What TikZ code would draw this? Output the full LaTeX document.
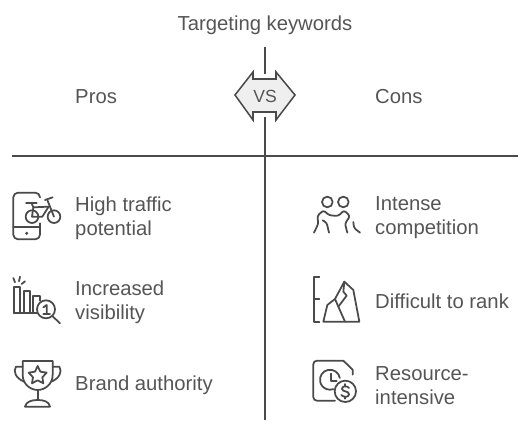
\documentclass[tikz,border=0pt]{standalone}
\usepackage{fontspec}
\setmainfont{Liberation Sans}
\usepackage{xcolor}
\usetikzlibrary{positioning, shapes.geometric}
\definecolor{inkgrey}{HTML}{4A4A4A}
\definecolor{textgrey}{HTML}{555555}
\definecolor{vsfill}{HTML}{EFEFEF}
\tikzset{
  axisline/.style={draw=inkgrey, line width=1.7pt},
  iconline/.style={draw=inkgrey, line width=1.5pt, line cap=round, line join=round},
  itemlabel/.style={font=\fontsize{17.3}{20.5}\selectfont, text=textgrey, anchor=west, align=left, inner sep=0pt},
  headlabel/.style={font=\fontsize{17.3}{20.5}\selectfont, text=textgrey, inner sep=0pt}
}
\begin{document}
\begin{tikzpicture}[x=0.03cm, y=-0.03cm]
  \useasboundingbox (0,0) rectangle (531,433);

  % -- Title and headings --
  \node[headlabel] (title) at (265,25) {Targeting keywords};
  \node[headlabel, anchor=west] (pros) at (75,97) {Pros};
  \node[headlabel, anchor=west] (cons) at (375,97) {Cons};

  % -- Axes --
  \coordinate (axistop) at (265,47);
  \coordinate (axisbot) at (265,420);
  \coordinate (vsup) at (265,74);
  \coordinate (vsdown) at (265,117);
  \coordinate (ruleleft) at (12,156);
  \coordinate (ruleright) at (518,156);
  \draw[axisline] (axistop) -- (vsup);
  \draw[axisline] (vsdown) -- (axisbot);
  \draw[axisline] (ruleleft) -- (ruleright);

  % -- VS badge --
  \filldraw[fill=vsfill, draw=inkgrey, line width=1.3pt, line join=miter]
    (235,95) -- (253,72) -- (253,79) -- (276,79) -- (276,72) -- (295,95)
    -- (276,120) -- (276,112) -- (253,112) -- (253,120) -- cycle;
  \node[font=\fontsize{15}{16}\selectfont, text=textgrey, inner sep=0pt] (vs) at (265,96) {VS};

  % -- Labels, pros --
  \node[itemlabel] (traffic) at (75,218) {High traffic\\potential};
  \node[itemlabel] (visible) at (75,302) {Increased\\visibility};
  \node[itemlabel] (brand) at (75,385) {Brand authority};

  % -- Labels, cons --
  \node[itemlabel] (compete) at (375,218) {Intense\\competition};
  \node[itemlabel] (rank) at (375,301) {Difficult to rank};
  \node[itemlabel] (resource) at (375,386) {Resource-\\intensive};

  % -- Phone and bike --
  \begin{scope}[shift={(10,190)}, scale=0.3333]
    \draw[iconline, rounded corners=4pt] (90,22) -- (90,8) -- (10,8) -- (10,148) -- (90,148) -- (90,100);
    \draw[iconline] (10,112) -- (90,112);
    \fill[inkgrey] (50,130) circle (5);
    \draw[iconline] (66,80) circle (19);
    \draw[iconline] (132,80) circle (19);
    \draw[iconline] (48,38) -- (80,38);
    \draw[iconline] (64,38) -- (70,52) -- (66,80) -- (97,80) -- (116,50) -- (70,52);
    \draw[iconline] (105,30) -- (128,22);
    \draw[iconline] (112,30) -- (132,80);
  \end{scope}

  % -- Bars and magnifier --
  \begin{scope}[shift={(10,274)}, scale=0.3333]
    \draw[iconline] (13,118) -- (13,38) -- (30,38) -- (30,118);
    \draw[iconline] (42,118) -- (42,50) -- (60,50) -- (60,118);
    \draw[iconline] (70,118) -- (70,65) -- (90,65) -- (90,80);
    \draw[iconline] (13,118) -- (80,118);
    \draw[iconline] (10,12) -- (15,25);
    \draw[iconline] (30,8) -- (27,22);
    \draw[iconline] (45,22) -- (35,30);
    \draw[iconline] (108,106) circle (27);
    \draw[iconline] (127,126) -- (150,148);
    \draw[iconline] (100,100) -- (110,93) -- (110,120);
    \draw[iconline] (100,120) -- (120,120);
  \end{scope}

  % -- Trophy --
  \begin{scope}[shift={(0,180)}, scale=0.3333]
    \draw[iconline] (68,543) -- (158,543) -- (158,585) .. controls (158,612) and (135,630) .. (113,630)
      .. controls (91,630) and (68,612) .. (68,585) -- cycle;
    \draw[iconline] (68,560) -- (48,560) .. controls (38,575) and (48,595) .. (72,605);
    \draw[iconline] (158,560) -- (178,560) .. controls (188,575) and (178,595) .. (154,605);
    \draw[iconline] (113,630) -- (113,660);
    \draw[iconline] (75,680) .. controls (78,665) and (95,660) .. (113,660)
      .. controls (131,660) and (148,665) .. (150,680) -- cycle;
    \draw[iconline] (113,558) -- (121,575) -- (140,578) -- (127,592) -- (130,610)
      -- (113,601) -- (96,610) -- (99,592) -- (86,578) -- (105,575) -- cycle;
  \end{scope}

  % -- Two people --
  \begin{scope}[shift={(310,192)}, scale=0.3333]
    \draw[iconline] (52,30) circle (16);
    \draw[iconline] (100,30) circle (16);
    \draw[iconline, rounded corners=2pt] (12,122) -- (25,95) -- (22,72) -- (40,55) -- (58,70) -- (85,72) -- (102,55) -- (120,72) -- (105,95) -- (112,122);
    \draw[iconline, rounded corners=2pt] (38,85) -- (50,92) -- (57,122);
    \draw[iconline, rounded corners=2pt] (130,90) -- (132,108) -- (150,122);
  \end{scope}

  % -- Bracket and mountain --
  \begin{scope}[shift={(310,275)}, scale=0.3333]
    \draw[iconline] (28,7) -- (12,7) -- (12,140) -- (28,140);
    \draw[iconline] (12,72) -- (28,72);
    \draw[iconline] (40,140) -- (148,140) -- (130,45) -- (103,20) -- (75,72) -- (52,90) -- cycle;
    \draw[iconline] (103,20) -- (100,50) -- (110,62) -- (85,95) -- (105,140);
    \draw[iconline] (75,72) -- (85,95);
  \end{scope}

  % -- Document, clock and dollar --
  \begin{scope}[shift={(310,358)}, scale=0.3333]
    \draw[iconline, rounded corners=3pt] (75,128) -- (10,128) -- (10,8) -- (100,8);
    \draw[iconline] (100,8) -- (128,35) -- (128,50);
    \draw[iconline] (89.5,60) arc (-10:-290:30);
    \draw[iconline] (62,47) -- (62,68) -- (80,68);
    \draw[iconline] (106,100) circle (32);
    \draw[iconline] (117,90) .. controls (111,82) and (95,84) .. (96,93)
      .. controls (97,102) and (117,98) .. (117,109)
      .. controls (117,118) and (100,119) .. (94,111);
    \draw[iconline] (106,78) -- (106,85);
    \draw[iconline] (106,116) -- (106,122);
  \end{scope}
\end{tikzpicture}
\end{document}
